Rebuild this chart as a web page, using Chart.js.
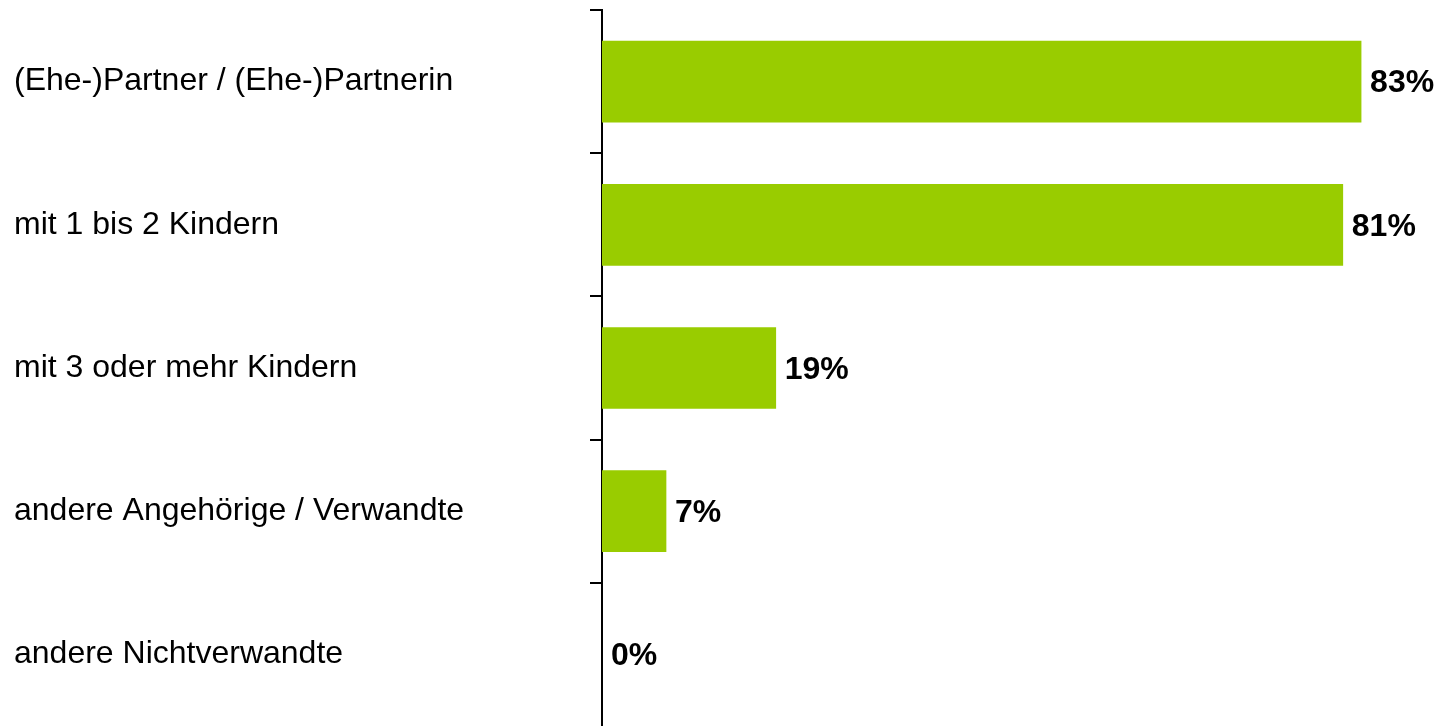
<!DOCTYPE html>
<html>
<head>
<meta charset="utf-8">
<script src="https://cdn.jsdelivr.net/npm/chart.js@4/dist/chart.umd.min.js"></script>
<style>
  html, body { margin: 0; padding: 0; background: #fff; }
  #wrap { width: 1437px; height: 726px; position: relative; }
</style>
</head>
<body>
<div id="wrap"><canvas id="chart"></canvas></div>
<script>
const categories = [
    '(Ehe-)Partner / (Ehe-)Partnerin',
    'mit 1 bis 2 Kindern',
    'mit 3 oder mehr Kindern',
    'andere Angehörige / Verwandte',
    'andere Nichtverwandte'
];
const shares = [83, 81, 19, 7, 0];

// draws the bold "83%" labels right after each bar
const valueLabels = {
    id: 'valueLabels',
    afterDatasetsDraw(chart) {
        const ctx = chart.ctx;
        const meta = chart.getDatasetMeta(0);
        ctx.save();
        ctx.font = 'bold 32px "Liberation Sans", Arial, sans-serif';
        ctx.fillStyle = '#000';
        ctx.textAlign = 'left';
        ctx.textBaseline = 'middle';
        meta.data.forEach((bar, i) => {
            ctx.fillText(shares[i] + '%', bar.x + 9, bar.y + 2);
        });
        ctx.restore();
    }
};

const ctx = document.getElementById('chart').getContext('2d');
new Chart(ctx, {
    type: 'bar',
    data: {
        labels: categories,
        datasets: [{
            data: shares,
            // a 0% bar should not leave a sliver on the axis
            backgroundColor: shares.map(v => v > 0 ? '#99cc00' : 'rgba(0,0,0,0)'),
            borderWidth: 0,
            barThickness: 81
        }]
    },
    options: {
        indexAxis: 'y',
        responsive: true,
        maintainAspectRatio: false,
        animation: false,
        layout: { padding: { left: 14, top: 10, right: 0, bottom: 0 } },
        plugins: {
            legend: { display: false },
            tooltip: { enabled: false }
        },
        scales: {
            x: {
                display: false,
                min: 0,
                max: 91.3
            },
            y: {
                afterFit(scale) {
                    scale.width = 588;
                    scale.paddingTop = 0;
                    scale.paddingBottom = 0;
                },
                border: { display: true, color: '#000', width: 2 },
                grid: {
                    offset: true,
                    drawOnChartArea: false,
                    drawTicks: true,
                    tickLength: 12,
                    // last (bottom) tick falls off the picture in the original
                    color: c => c.type === 'tick' ? '#000' : 'rgba(0,0,0,0)',
                    lineWidth: 2
                },
                ticks: {
                    crossAlign: 'far',
                    color: '#000',
                    font: { family: '"Liberation Sans", Arial, sans-serif', size: 32 }
                }
            }
        }
    },
    plugins: [valueLabels]
});
</script>
</body>
</html>
